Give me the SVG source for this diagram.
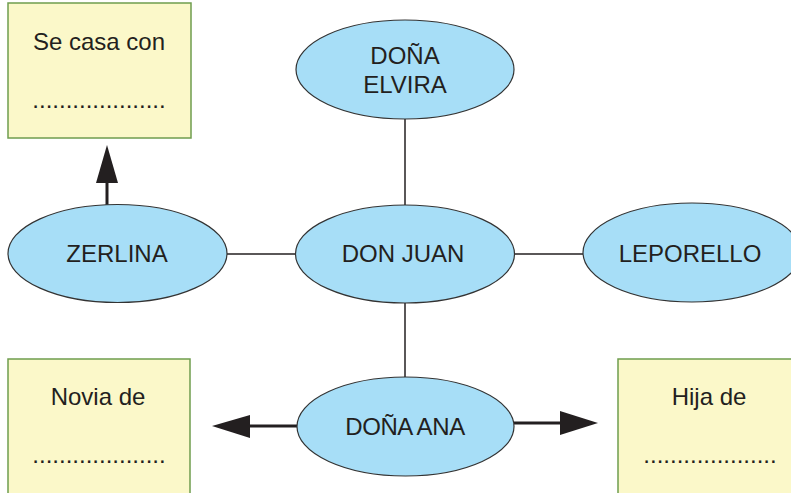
<svg xmlns="http://www.w3.org/2000/svg" width="791" height="493" viewBox="0 0 791 493">
<style>
.box{fill:#fbf8c9;stroke:#6f9d4e;stroke-width:1.5}
.ell{fill:#a7def7;stroke:#333;stroke-width:1.2}
.t{font-family:"Liberation Sans",Arial,sans-serif;font-size:24px;fill:#231f20;text-anchor:middle}
.ln{stroke:#231f20;stroke-width:1.5;fill:none}
.ar{stroke:#231f20;stroke-width:3;fill:none}
.hd{fill:#231f20}
</style>
<rect width="791" height="493" fill="#fff"/>
<g id="connectors">
<line class="ln" x1="405" y1="119" x2="405" y2="205"/>
<line class="ln" x1="227" y1="254" x2="296" y2="254"/>
<line class="ln" x1="514" y1="254" x2="583" y2="254"/>
<line class="ln" x1="405" y1="303" x2="405" y2="377"/>
<line class="ar" x1="107" y1="205" x2="107" y2="180"/>
<polygon class="hd" points="107,145 96,183 118,183"/>
<line class="ar" x1="297" y1="426" x2="248" y2="426"/>
<polygon class="hd" points="212,426 250,415 250,438"/>
<line class="ar" x1="514" y1="423" x2="562" y2="423"/>
<polygon class="hd" points="598,423 560,411 560,435"/>
</g>
<g id="box-se-casa">
<rect class="box" x="8" y="3" width="183" height="135"/>
<text class="t" x="99" y="50">Se casa con</text>
<text class="t" x="99" y="108">....................</text>
</g>
<g id="box-novia">
<rect class="box" x="8" y="359" width="182" height="140"/>
<text class="t" x="98" y="405">Novia de</text>
<text class="t" x="99" y="463">....................</text>
</g>
<g id="box-hija">
<rect class="box" x="618" y="359" width="180" height="140"/>
<text class="t" x="709" y="405">Hija de</text>
<text class="t" x="710" y="463">....................</text>
</g>
<g id="dona-elvira">
<ellipse class="ell" cx="405" cy="69.5" rx="109" ry="49.5"/>
<text class="t" x="405" y="64">DOÑA</text>
<text class="t" x="405" y="93">ELVIRA</text>
</g>
<g id="zerlina">
<ellipse class="ell" cx="117.5" cy="253.5" rx="109.5" ry="49"/>
<text class="t" x="117" y="262">ZERLINA</text>
</g>
<g id="don-juan">
<ellipse class="ell" cx="405" cy="254" rx="109.5" ry="49"/>
<text class="t" x="403" y="262">DON JUAN</text>
</g>
<g id="leporello">
<ellipse class="ell" cx="692" cy="252.5" rx="109" ry="49.5"/>
<text class="t" x="690" y="262">LEPORELLO</text>
</g>
<g id="dona-ana">
<ellipse class="ell" cx="405.5" cy="426.5" rx="108.5" ry="49.5"/>
<text class="t" x="405" y="435" letter-spacing="-0.4">DOÑA ANA</text>
</g>
</svg>
